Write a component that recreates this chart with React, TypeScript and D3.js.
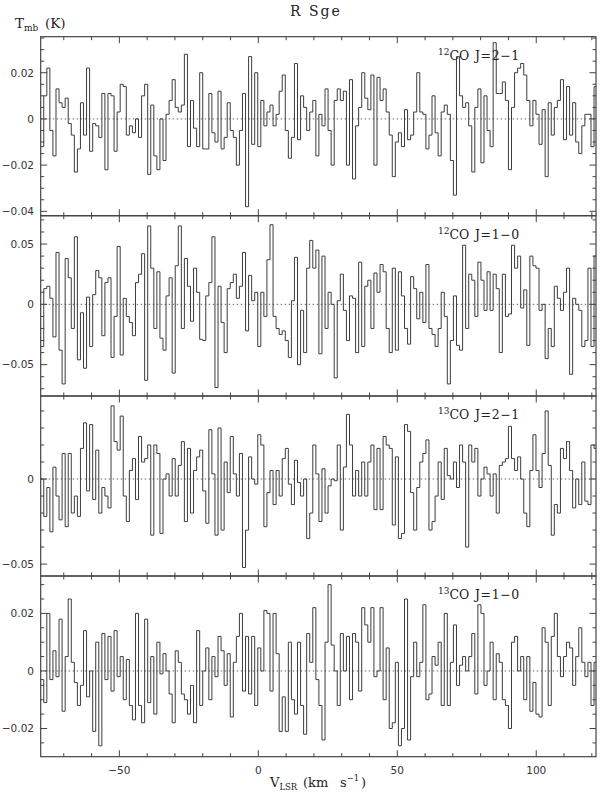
import React, { useEffect } from "react";
import * as d3 from "d3";

// velocity axis (km/s) and the channel grid of the spectra
const V_DOMAIN: [number, number] = [-78.3, 121.5];
const CHAN_START = -78.3;
const CHAN_WIDTH = 1.1;
const V_MAJOR_STEP = 50;
const V_MINOR_STEP = 10;

// panel labels
const ISOTOPES = ["12", "12", "13", "13"];
const TRANSITIONS = ["J=2\u22121", "J=1\u22120", "J=2\u22121", "J=1\u22120"];

// y ranges (K) and tick steps per panel
const Y_DOMAINS: [number, number][] = [
  [-0.0419, 0.0356],
  [-0.076, 0.0735],
  [-0.057, 0.0488],
  [-0.0298, 0.033],
];
const Y_MAJOR_STEPS = [0.02, 0.05, 0.05, 0.02];
const Y_MINOR_STEPS = [0.005, 0.01, 0.01, 0.005];

// spectra, T_mb in mK per channel
const CO12_21 = [
  -12, 10, 22, -5, -16, 13, 7, 5, 9, -2,
  -7, -23, -13, 7, -7, 22, -14, -2, -3, -8,
  11, -22, 11, 10, -14, 3, 15, 14, -7, -3,
  -6, 0, -8, 10, 15, -24, 6, -16, -22, 0,
  -18, 2, 8, 17, 5, 3, 6, 28, -12, 8,
  -4, -12, 20, -13, -13, 11, -6, -10, 12, -13,
  -8, 7, -5, -8, -20, -5, 11, -38, 27, -11,
  20, -12, 8, -3, 3, 6, -3, 2, 12, 19,
  -5, -17, -8, 24, -9, 10, 5, -5, 3, 8,
  -16, 2, -3, 13, -5, -20, 8, 13, 8, 12,
  -20, 17, -26, -3, 5, 20, 9, 4, 19, -20,
  18, 8, 13, 3, -7, -25, -10, -6, -12, 4,
  -9, -7, 3, 20, 3, 2, -13, -7, 10, -6,
  -16, 3, 6, 2, -18, -33, 27, 10, 5, 7,
  -3, -23, 5, 13, -19, 10, -5, -12, 33, 11,
  11, 16, 8, -22, 5, 20, 22, 24, 19, 8,
  -3, 8, 2, -11, 4, -25, 7, -7, 5, 8,
  17, -9, 14, -7, 7, -10, -15, -3, 2, 2,
  -12, 14, -31, 7,
];

const CO12_10 = [
  -35, 13, 15, 5, -27, 43, -38, -66, 38, 22,
  -20, 56, -46, -7, -53, 6, -35, 8, 28, 22,
  -26, 18, 22, -44, -10, 48, -42, 5, -10, -15,
  -26, 18, 25, 42, -63, 65, 30, -20, 27, -28,
  -38, 7, 22, -57, 32, 65, -20, 38, 15, -14,
  30, 10, -29, -30, 7, 18, 56, -69, 15, -15,
  -40, 13, 18, 25, 5, 15, 43, -22, 24, 3,
  10, -35, 10, -10, 37, 66, -10, -20, -25, -22,
  -30, -44, 3, 39, -50, -5, -40, 30, 53, 30,
  45, -41, 40, -20, 10, 0, -61, 3, 25, -5,
  -30, 7, 5, -40, 35, -35, 15, 20, -20, 26,
  10, 33, 27, -20, -40, 30, -38, 27, 7, -20,
  -33, 23, 13, -12, 10, -15, 33, -20, -25, -35,
  -20, 10, -10, -66, -30, 7, -34, -38, 49, -20,
  25, 20, -10, 35, 20, -5, 27, -5, 25, 13,
  -40, 25, -10, -8, 49, 30, 40, -3, 12, -34,
  40, 32, 30, -5, 0, -45, -20, -35, 15, 5,
  -5, 10, 30, -58, 5, 0, -5, -35, -30, 30,
  -35, 40, -10, 5,
];

const CO13_21 = [
  0, -22, -5, -31, 7, -10, -24, 15, -28, 15,
  -20, -10, -22, 18, 33, -7, 32, -12, 17, -20,
  -5, -10, -17, 43, 22, 17, 37, -10, -25, 5,
  12, -12, 25, 10, 12, 20, -33, 20, 15, -32,
  0, 3, -10, 12, -10, 8, 22, -25, 18, -20,
  5, 13, 17, -7, -26, 29, 3, -33, 30, -30,
  10, -8, 25, 3, -10, 15, -52, -30, 13, 0,
  -3, 26, 20, -28, -8, 5, -15, 5, -10, 12,
  18, -3, -15, 11, -2, -10, 0, -35, -20, 20,
  3, -25, 6, -20, -4, 0, -1, 20, -30, 7,
  38, 20, -10, 5, -10, 10, -10, 10, 20, -18,
  18, -18, 25, 20, 18, -27, 13, -35, -32, 32,
  28, -8, -30, -5, 10, 15, 23, -30, -25, -10,
  10, -12, 18, 2, 0, 10, -5, 20, 10, -40,
  20, 10, 18, -10, 0, 7, 3, -10, 3, -20,
  8, 10, 12, 31, 12, 5, 13, 0, -20, -28,
  5, 26, 5, -5, 15, 40, 8, -33, -15, -20,
  18, 12, 22, 5, -17, 0, -15, 10, -13, -15,
  20, 18, 0, -10,
];

const CO13_10 = [
  -3, -11, 20, -3, 7, -2, 18, -14, 5, 25,
  3, -4, -12, -5, 14, -9, 0, -21, 10, -26,
  13, -3, 12, -7, 14, -2, 5, -10, 4, -12,
  -17, 20, -12, -18, 18, -11, 5, -15, 10, -1,
  6, 0, -8, -18, 7, 3, -8, -10, -15, -5,
  -18, 14, -12, 0, 8, -10, 5, -2, 12, 7,
  -5, 6, -16, 3, 12, 20, -7, 12, -8, 12,
  -12, 8, 0, 21, 20, -7, 20, 6, -21, -9,
  -21, 10, -10, -15, 10, -12, -22, 13, 3, 22,
  -3, -12, -24, 10, 30, 9, 0, -12, 13, 0,
  12, -10, 13, 10, -7, 22, 16, 10, 22, -2,
  0, 22, -10, 8, -20, -18, 3, -26, -20, 25,
  -24, -2, 10, -2, 3, 23, -10, -8, 5, 2,
  10, -12, 20, -12, 3, 16, -5, 2, 5, 0,
  5, 13, -8, 23, 20, -5, 0, 10, -10, 6,
  3, -10, -12, -20, 10, 12, 0, 5, -10, 5,
  -14, -4, -15, -16, 15, 10, -12, 12, 20, 5,
  -2, 5, 10, 8, -5, 5, 15, 3, -2, 3,
  -12, 3, -15, 27,
];

const SPECTRA = [CO12_21, CO12_10, CO13_21, CO13_10];

// layout
const WIDTH = 600;
const HEIGHT = 796;
const LEFT = 40.7;
const RIGHT = 596;
const EDGES = [36.7, 215.7, 396, 576, 756.7];
const MAJOR_LEN = 6.5;
const MINOR_LEN = 3.5;
const INK = "#3c3c3c";
const SANS = "'DejaVu Sans', sans-serif";
const SERIF = "'DejaVu Serif', serif";

const x = d3.scaleLinear().domain(V_DOMAIN).range([LEFT, RIGHT]);

const ticksBy = (lo: number, hi: number, step: number) =>
  d3
    .range(Math.ceil(lo / step - 1e-9), Math.floor(hi / step + 1e-9) + 1)
    .map((k) => +(k * step).toFixed(4));

const fmt = (v: number) =>
  v === 0 ? "0" : (v < 0 ? "\u2212" : "") + String(Math.abs(v));

const Panel = ({ idx }: { idx: number }) => {
  const top = EDGES[idx];
  const bottom = EDGES[idx + 1];
  const y = d3.scaleLinear().domain(Y_DOMAINS[idx]).range([bottom, top]);
  const data = SPECTRA[idx];

  const pts: [number, number][] = data.map((d, i) => [
    CHAN_START + i * CHAN_WIDTH,
    d / 1000,
  ]);
  pts.push([CHAN_START + data.length * CHAN_WIDTH, data[data.length - 1] / 1000]);
  const path = d3
    .line<[number, number]>()
    .x((p) => x(p[0]))
    .y((p) => y(p[1]))
    .curve(d3.curveStepAfter)(pts);

  const [ylo, yhi] = Y_DOMAINS[idx];
  const yMajor = ticksBy(ylo, yhi, Y_MAJOR_STEPS[idx]);
  const yMinor = ticksBy(ylo, yhi, Y_MINOR_STEPS[idx]);
  const vMajor = ticksBy(V_DOMAIN[0], V_DOMAIN[1], V_MAJOR_STEP);
  const vMinor = ticksBy(V_DOMAIN[0], V_DOMAIN[1], V_MINOR_STEP);
  const isMajorY = (v: number) => yMajor.some((m) => Math.abs(m - v) < 1e-6);
  const isMajorV = (v: number) => vMajor.some((m) => Math.abs(m - v) < 1e-6);

  return (
    <g>
      <defs>
        <clipPath id={`clip${idx}`}>
          <rect x={LEFT} y={top} width={RIGHT - LEFT} height={bottom - top} />
        </clipPath>
      </defs>
      <line
        x1={LEFT}
        x2={RIGHT}
        y1={y(0)}
        y2={y(0)}
        stroke="#444"
        strokeWidth={0.8}
        strokeDasharray="1.5 2.5"
      />
      <path
        d={path ?? ""}
        fill="none"
        stroke={INK}
        strokeWidth={1}
        clipPath={`url(#clip${idx})`}
      />
      <rect
        x={LEFT}
        y={top}
        width={RIGHT - LEFT}
        height={bottom - top}
        fill="none"
        stroke="#444"
        strokeWidth={1.2}
      />
      {yMinor.map((v) => {
        const len = isMajorY(v) ? MAJOR_LEN : MINOR_LEN;
        return (
          <g key={`y${v}`} stroke="#444" strokeWidth={1}>
            <line x1={LEFT} x2={LEFT + len} y1={y(v)} y2={y(v)} />
            <line x1={RIGHT} x2={RIGHT - len} y1={y(v)} y2={y(v)} />
          </g>
        );
      })}
      {vMinor.map((v) => {
        const len = isMajorV(v) ? MAJOR_LEN : MINOR_LEN;
        return (
          <g key={`v${v}`} stroke="#444" strokeWidth={1}>
            <line x1={x(v)} x2={x(v)} y1={top} y2={top + len} />
            <line x1={x(v)} x2={x(v)} y1={bottom} y2={bottom - len} />
          </g>
        );
      })}
      {yMajor.map((v) => (
        <text
          key={`yl${v}`}
          x={34}
          y={y(v)}
          dy="0.36em"
          textAnchor="end"
          fontFamily={SANS}
          fontSize={10.5}
          fill="#333"
        >
          {fmt(v)}
        </text>
      ))}
      <text x={438} y={top + 23} fontFamily={SERIF} fill="#222">
        <tspan fontSize={9} dy={-5}>
          {ISOTOPES[idx]}
        </tspan>
        <tspan fontSize={12.5} dy={5}>
          CO
        </tspan>
        <tspan x={475} fontSize={12.5} letterSpacing={0.6}>
          {TRANSITIONS[idx]}
        </tspan>
      </text>
    </g>
  );
};

const App = () => {
  useEffect(() => {
    document.body.style.margin = "0";
  }, []);

  const vMajor = ticksBy(V_DOMAIN[0], V_DOMAIN[1], V_MAJOR_STEP);

  return (
    <svg
      width={WIDTH}
      height={HEIGHT}
      viewBox={`0 0 ${WIDTH} ${HEIGHT}`}
      style={{ display: "block", position: "absolute", left: 0, top: 0, background: "#fff" }}
    >
      <rect width={WIDTH} height={HEIGHT} fill="#fff" />
      <text x={290} y={16} fontFamily={SERIF} fontSize={14} fill="#222">
        <tspan>R</tspan>
        <tspan x={309} letterSpacing={2}>
          Sge
        </tspan>
      </text>
      <text x={15} y={28} fontFamily={SERIF} fill="#222">
        <tspan fontSize={13.5}>T</tspan>
        <tspan fontSize={9} dy={3}>
          mb
        </tspan>
        <tspan x={45} dy={-3} fontSize={13.5}>
          (K)
        </tspan>
      </text>
      {SPECTRA.map((_, i) => (
        <Panel key={i} idx={i} />
      ))}
      {vMajor.map((v) => (
        <text
          key={`xl${v}`}
          x={x(v)}
          y={774}
          textAnchor="middle"
          fontFamily={SANS}
          fontSize={10.5}
          fill="#333"
        >
          {fmt(v)}
        </text>
      ))}
      <text x={270} y={787} fontFamily={SERIF} fill="#222">
        <tspan fontSize={13}>V</tspan>
        <tspan fontSize={8.5} dy={3}>
          LSR
        </tspan>
        <tspan x={303} dy={-3} fontSize={13}>
          (km
        </tspan>
        <tspan x={340} fontSize={13}>
          s
        </tspan>
        <tspan fontSize={8.5} dy={-6}>
          {"\u22121"}
        </tspan>
        <tspan x={361} dy={6} fontSize={13}>
          )
        </tspan>
      </text>
    </svg>
  );
};

export default App;
